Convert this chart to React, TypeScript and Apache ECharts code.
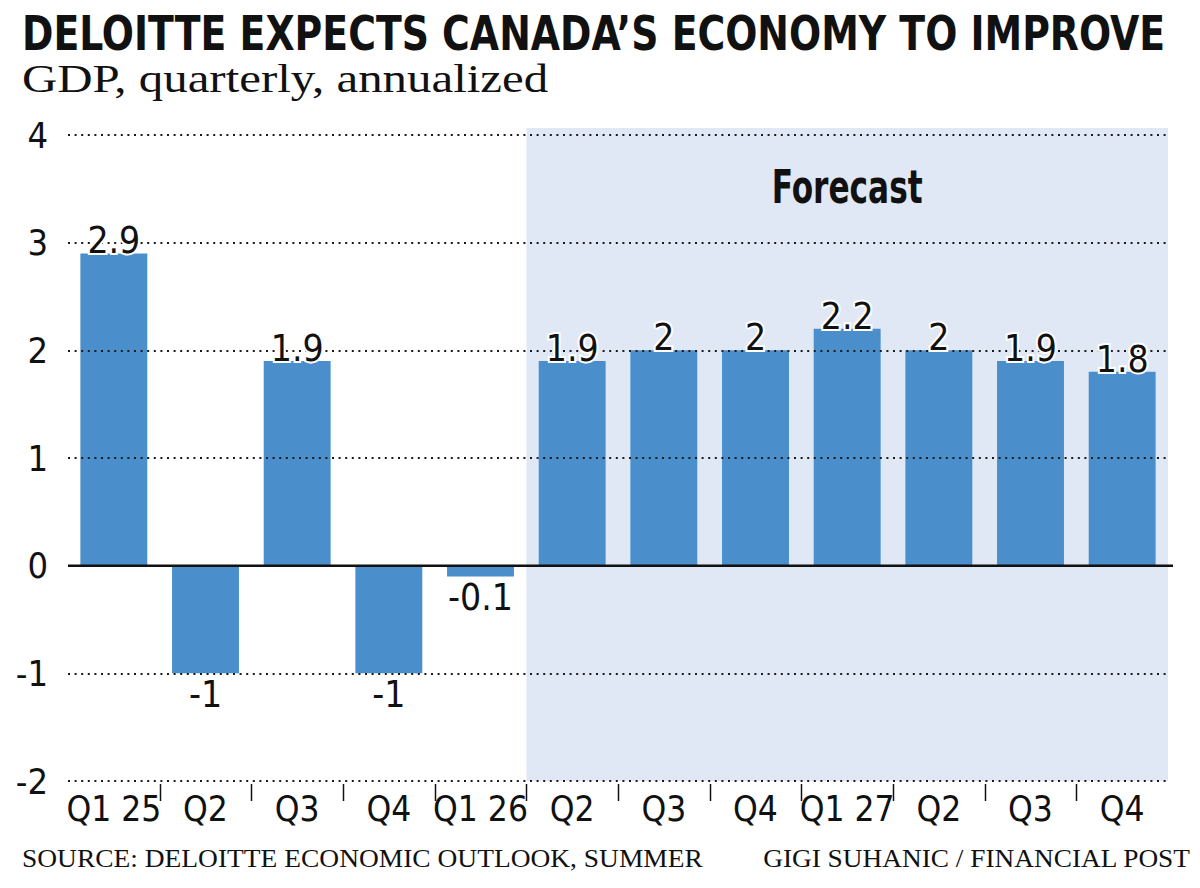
import React, { useEffect, useRef } from "react";
import * as echarts from "echarts";

const categories = ["Q1 25", "Q2 25", "Q3 25", "Q4 25", "Q1 26", "Q2 26", "Q3 26", "Q4 26", "Q1 27", "Q2 27", "Q3 27", "Q4 27"];
const tickLabels = ["Q1 25", "Q2", "Q3", "Q4", "Q1 26", "Q2", "Q3", "Q4", "Q1 27", "Q2", "Q3", "Q4"];
const gdp = [2.9, -1, 1.9, -1, -0.1, 1.9, 2, 2, 2.2, 2, 1.9, 1.8];
const firstForecast = "Q2 26";
const yTicks = { min: -2, max: 4, interval: 1 };

const TITLE = "DELOITTE EXPECTS CANADA\u2019S ECONOMY TO IMPROVE";
const SUBTITLE = "GDP, quarterly, annualized";
const SOURCE = "SOURCE: DELOITTE ECONOMIC OUTLOOK, SUMMER";
const CREDIT = "GIGI SUHANIC / FINANCIAL POST";
const FORECAST = "Forecast";

const NARROW = "'Liberation Sans Narrow', 'DejaVu Sans Condensed', 'Arial Narrow', sans-serif";
const SERIF = "'Liberation Serif', 'DejaVu Serif', serif";
const BAR = "#4a8fcb";
const SHADE = "#e1e8f5";
const INK = "#111111";

function measure(text: string, weight: string, size: number, family: string) {
  const ctx = document.createElement("canvas").getContext("2d")!;
  ctx.font = `${weight} ${size}px ${family}`;
  return ctx.measureText(text).width;
}

function fitText(text: string, x: number, y: number, width: number, size: number, family: string, weight: string, align: string, z = 10) {
  const w = measure(text, weight, size, family);
  return {
    type: "text",
    x,
    y,
    z,
    scaleX: width / w,
    style: { text, fontSize: size, fontFamily: family, fontWeight: weight, fill: INK, align, verticalAlign: "middle" },
  };
}

export default function App() {
  const ref = useRef<HTMLDivElement>(null);
  useEffect(() => {
    document.body.style.margin = "0";
    const chart = echarts.init(ref.current!, undefined, { renderer: "svg" });
    const labelFont = { fontFamily: NARROW, fontSize: 37, color: INK };
    chart.setOption({
      animation: false,
      backgroundColor: "#ffffff",
      grid: { left: 68, right: 32, top: 135, bottom: 107, containLabel: false },
      xAxis: {
        type: "category",
        data: categories,
        axisLine: { show: false },
        axisTick: { show: false },
        axisLabel: {
          formatter: (_v: string, i: number) => tickLabels[i],
          fontFamily: NARROW,
          fontSize: 35,
          color: INK,
          margin: 10,
          interval: 0,
        },
      },
      yAxis: {
        type: "value",
        min: yTicks.min,
        max: yTicks.max,
        interval: yTicks.interval,
        z: 3,
        axisLine: { show: false },
        axisTick: { show: false },
        axisLabel: { fontFamily: NARROW, fontSize: 36, color: INK, margin: 20, padding: [10, 0, 0, 0] },
        splitLine: { show: true, lineStyle: { color: "#1a1a1a", width: 2, type: [2, 4.6] } },
      },
      series: [
        {
          type: "bar",
          data: gdp,
          barWidth: "73%",
          z: 2,
          itemStyle: { color: BAR },
        },
        {
          type: "bar",
          barGap: "-100%",
          barWidth: "73%",
          z: 5,
          itemStyle: { color: "rgba(0,0,0,0)" },
          data: gdp.map((v) => ({
            value: v,
            label: {
              show: true,
              position: v < 0 ? "bottom" : "top",
              distance: v < 0 ? 3 : -6,
              formatter: () => String(v),
              ...labelFont,
              textBorderColor: "#ffffff",
              textBorderWidth: 4,
            },
          })),
        },
      ],
    });

    const cx = (i: number) => chart.convertToPixel({ xAxisIndex: 0 }, categories[i]) as number;
    const band = cx(1) - cx(0);
    const boundary = (i: number) => cx(0) + band * (i - 0.5);
    const yPx = (v: number) => chart.convertToPixel({ yAxisIndex: 0 }, v) as number;
    const fIdx = categories.indexOf(firstForecast);
    const left = boundary(fIdx);
    const right = boundary(categories.length);
    const top = yPx(yTicks.max) - 7;
    const bottom = yPx(yTicks.min);
    const zero = yPx(0);

    const ticks: any[] = [];
    for (let i = 1; i < categories.length; i++) {
      const x = Math.round(boundary(i)) + 0.5;
      ticks.push({
        type: "line",
        z: 10,
        shape: { x1: x, y1: bottom + 3, x2: x, y2: bottom + 20 },
        style: { stroke: INK, lineWidth: 1.5 },
      });
    }

    chart.setOption({
      graphic: [
        {
          type: "rect",
          z: -1,
          shape: { x: left, y: top, width: right - left, height: bottom - top },
          style: { fill: SHADE },
        },
        {
          type: "line",
          z: 10,
          shape: { x1: boundary(0), y1: zero, x2: right + 5, y2: zero },
          style: { stroke: INK, lineWidth: 2.5 },
        },
        ...ticks,
        fitText(FORECAST, (left + right) / 2, 187, 151, 46, NARROW, "bold", "center"),
        fitText(TITLE, 22, 34, 1143, 48, NARROW, "bold", "left"),
        fitText(SUBTITLE, 22, 79, 526, 40, SERIF, "normal", "left"),
        fitText(SOURCE, 22, 859, 681, 25, SERIF, "normal", "left"),
        fitText(CREDIT, 1190, 859, 428, 25, SERIF, "normal", "right"),
      ],
    });
    return () => chart.dispose();
  }, []);
  return <div ref={ref} style={{ width: 1200, height: 888 }} />;
}
